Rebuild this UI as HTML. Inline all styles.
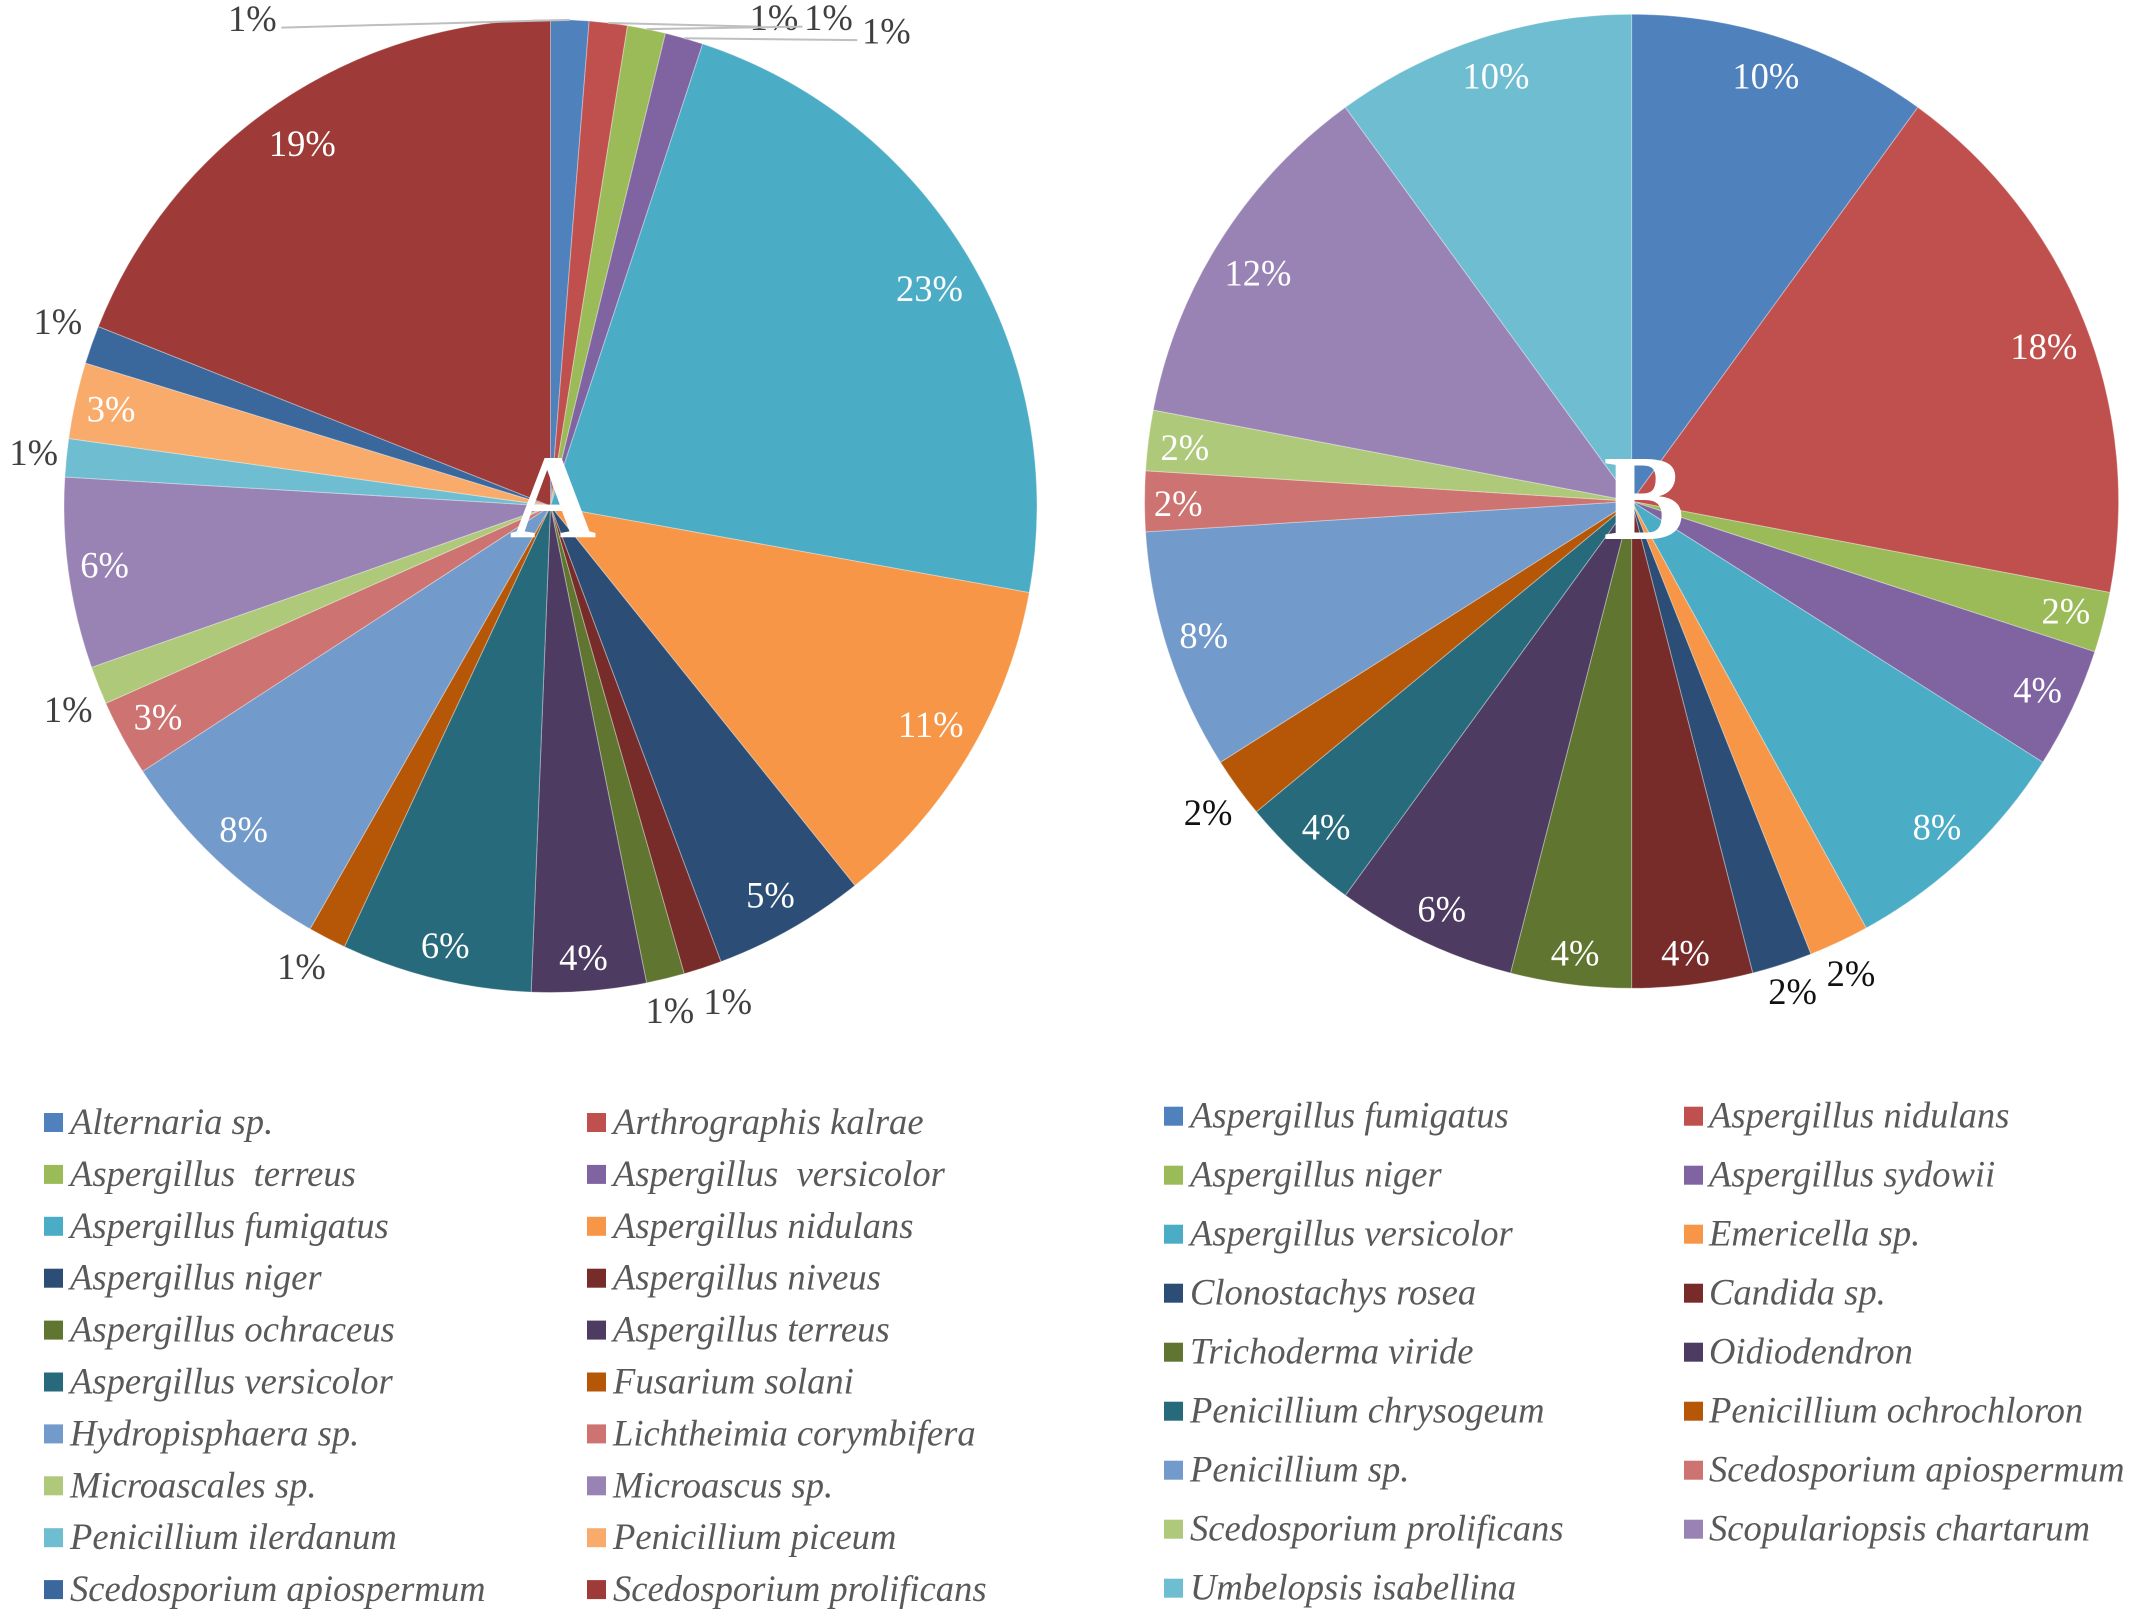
<!DOCTYPE html>
<html lang="en">
<head>
<meta charset="utf-8">
<title>Fungal species distribution pie charts A and B</title>
<style>
  html, body { margin: 0; padding: 0; background: #fff; }
  svg { display: block; }
  text { font-family: "Liberation Serif", serif; white-space: pre; }
</style>
</head>
<body>
<svg id="chart" xmlns="http://www.w3.org/2000/svg" width="2133" height="1621" viewBox="0 0 2133 1621">
  <rect x="0" y="0" width="2133" height="1621" fill="#ffffff"/>
</svg>
<script>
// ---- Pie A data ----
const categoriesA = ["Alternaria sp.", "Arthrographis kalrae", "Aspergillus  terreus", "Aspergillus  versicolor", "Aspergillus fumigatus", "Aspergillus nidulans", "Aspergillus niger", "Aspergillus niveus", "Aspergillus ochraceus", "Aspergillus terreus", "Aspergillus versicolor", "Fusarium solani", "Hydropisphaera sp.", "Lichtheimia corymbifera", "Microascales sp.", "Microascus sp.", "Penicillium ilerdanum", "Penicillium piceum", "Scedosporium apiospermum", "Scedosporium prolificans"];
const valuesA = [1, 1, 1, 1, 18, 9, 4, 1, 1, 3, 5, 1, 6, 2, 1, 5, 1, 2, 1, 15];
const outsideA = [0, 1, 2, 3, 7, 8, 11, 14, 16, 18];

// ---- Pie B data ----
const categoriesB = ["Aspergillus fumigatus", "Aspergillus nidulans", "Aspergillus niger", "Aspergillus sydowii", "Aspergillus versicolor", "Emericella sp.", "Clonostachys rosea", "Candida sp.", "Trichoderma viride", "Oidiodendron", "Penicillium chrysogeum", "Penicillium ochrochloron", "Penicillium sp.", "Scedosporium apiospermum", "Scedosporium prolificans", "Scopulariopsis chartarum", "Umbelopsis isabellina"];
const valuesB = [5, 9, 1, 2, 4, 1, 1, 2, 2, 3, 2, 1, 4, 1, 1, 6, 5];
const outsideB = [5, 6, 11];

// ---- Palettes ----
const paletteA = ["#4F81BD", "#C0504D", "#9BBB59", "#8064A2", "#4BACC6", "#F79646", "#2C4D75", "#772C2A", "#5F7530", "#4D3B62", "#276A7C", "#B65708", "#729ACA", "#CD7371", "#AFC97A", "#9983B5", "#6FBDD1", "#F9AB6B", "#3A679C", "#9E3B38"];
const paletteB = ["#4F81BD", "#C0504D", "#9BBB59", "#8064A2", "#4BACC6", "#F79646", "#2C4D75", "#772C2A", "#5F7530", "#4D3B62", "#276A7C", "#B65708", "#729ACA", "#CD7371", "#AFC97A", "#9983B5", "#6FBDD1"];

const svg = document.getElementById('chart');
const NS = 'http://www.w3.org/2000/svg';
const labelSize = 36.5;
const labelGap = 12;
const legendSize = 36.6;

function make(tag, attrs, parent) {
  const el = document.createElementNS(NS, tag);
  for (const k in attrs) el.setAttribute(k, attrs[k]);
  parent.appendChild(el);
  return el;
}
function slug(s) {
  return s.toLowerCase().replace(/[^a-z0-9]+/g, '-').replace(/-$/, '');
}

function drawPie(cfg) {
  const total = cfg.values.reduce((a, b) => a + b, 0);
  const toAngle = v => v / total * Math.PI * 2;
  const px = (r, a) => cfg.cx + r * Math.sin(a);
  const py = (r, a) => cfg.cy - r * Math.cos(a);

  const group = make('g', {}, svg);
  
  

  let run = 0;
  cfg.values.forEach((v, i) => {
    const a0 = toAngle(run);
    const a1 = toAngle(run + v);
    run += v;
    const large = (a1 - a0) > Math.PI ? 1 : 0;
    const d = 'M' + cfg.cx + ' ' + cfg.cy + ' L' + px(cfg.r, a0) + ' ' + py(cfg.r, a0) +
      ' A' + cfg.r + ' ' + cfg.r + ' 0 ' + large + ' 1 ' + px(cfg.r, a1) + ' ' + py(cfg.r, a1) + ' Z';
    const slice = make('path', { d: d, fill: cfg.palette[i], stroke: 'rgba(255,255,255,0.35)', 'stroke-width': 1 }, group);
    
    
  });

  run = 0;
  cfg.values.forEach((v, i) => {
    const mid = toAngle(run + v / 2);
    run += v;
    const text = Math.round(v / total * 100) + '%';
    const w = ((text.length - 1) * 0.5 + 0.833) * labelSize;
    const h = labelSize * 0.84;
    const extent = Math.abs(Math.sin(mid)) * w / 2 + Math.abs(Math.cos(mid)) * h / 2;
    const outside = cfg.outside.includes(i);
    const radial = outside ? cfg.r + labelGap + extent : cfg.r - labelGap - extent;
    const nudge = cfg.nudges[i] || [0, 0];
    const lx = px(radial, mid) + nudge[0];
    const ly = py(radial, mid) + nudge[1];
    const lead = cfg.leaders[i];
    if (lead) {
      const line = make('line', {
        x1: px(cfg.r, mid), y1: py(cfg.r, mid),
        x2: lx + lead[0], y2: ly + lead[1],
        stroke: '#bfbfbf', 'stroke-width': 2
      }, group);
      
      
    }
    const t = make('text', {
      x: lx, y: ly + labelSize * 0.338, 'text-anchor': 'middle',
      'font-size': labelSize,
      fill: outside ? cfg.outsideColor : '#ffffff'
    }, group);
    
    
    t.textContent = text;
  });

  const letter = make('text', {
    x: cfg.letterX, y: cfg.letterY, 'text-anchor': 'middle',
    'font-size': cfg.letterSize, 'font-weight': 'bold', fill: '#ffffff'
  }, group);
  
  
  letter.textContent = cfg.letter;
}

function drawLegend(cfg) {
  const group = make('g', {}, svg);
  
  
  cfg.categories.forEach((c, i) => {
    const col = i % 2;
    const row = Math.floor(i / 2);
    const y = cfg.y0 + row * cfg.dy;
    const entry = make('g', {}, group);
    
    
    const swatch = make('rect', {
      x: cfg.swatchX[col], y: y - 10, width: 19, height: 19, fill: cfg.palette[i]
    }, entry);
    
    
    const t = make('text', {
      x: cfg.textX[col], y: y + 11, 'font-size': legendSize, 'font-style': 'italic', fill: '#595959'
    }, entry);
    
    
    t.textContent = c;
  });
}

drawPie({
  name: 'pie-chart-a', letter: 'A', categories: categoriesA, values: valuesA, palette: paletteA,
  outside: outsideA, outsideColor: '#404040',
  cx: 550.5, cy: 506, r: 486.5, letterX: 553, letterY: 537, letterSize: 120,
  nudges: [[-318.6, 27], [162, 24.7], [175.6, 19.7], [193, 25], [2.7, 6.8], [4, -5.4], [-2, -1.4], [14.4, 1.3], [-3.4, 0], [-3.4, -4.1], [2, -1.3], [-8.7, -4.1], [-0.6, -1.3], [-0.7, -1.3], [7.3, 9.5], [-2, -2.8], [4.8, -1.4], [-2.7, 0], [4.1, -9.5], [0.7, 4]],
  leaders: { 0: [29, 9], 1: [-12, 9], 2: [-26, 9], 3: [-29, 9] }
});
drawPie({
  name: 'pie-chart-b', letter: 'B', categories: categoriesB, values: valuesB, palette: paletteB,
  outside: outsideB, outsideColor: '#111111',
  cx: 1631.6, cy: 501.3, r: 487, letterX: 1644, letterY: 539, letterSize: 122,
  nudges: [[-4.8, 2.7], [4.7, 6.8], [0.7, -1.3], [2, -1.3], [-0.7, 0], [-3.4, -1.3], [0, -5.4], [-3.4, -1.3], [0.7, -1.3], [2, 0], [0.6, 0], [3.4, 1.3], [-2.7, -4], [-2.7, 2.6], [-1.4, 2.7], [-3.4, 6.8], [3.4, 2.7]],
  leaders: {}
});
drawLegend({
  name: 'legend-a', categories: categoriesA, palette: paletteA,
  y0: 1123, dy: 51.9, swatchX: [44, 587], textX: [70, 613]
});
drawLegend({
  name: 'legend-b', categories: categoriesB, palette: paletteB,
  y0: 1116.7, dy: 59, swatchX: [1164, 1684], textX: [1190, 1709]
});
</script>
</body>
</html>
